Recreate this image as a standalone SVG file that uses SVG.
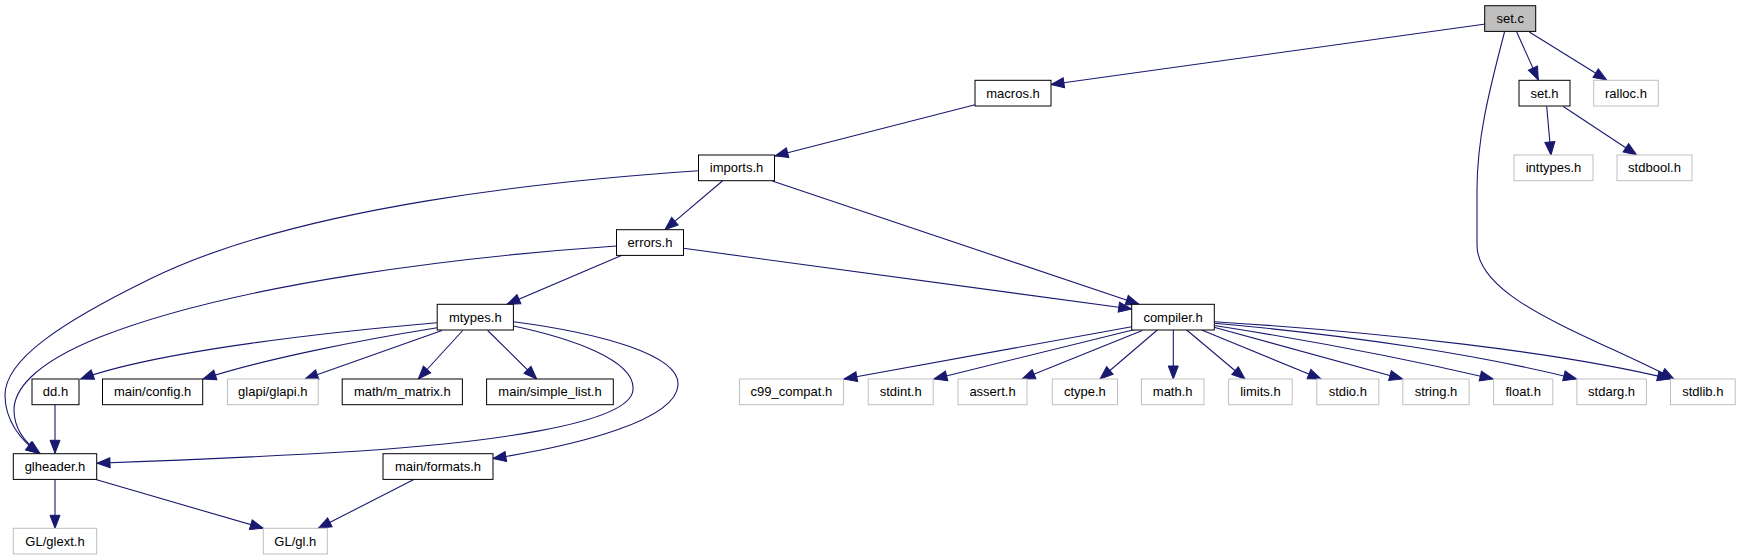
<svg xmlns="http://www.w3.org/2000/svg" width="1738" height="560" viewBox="0 0 1738 560">
<style>
.n rect{fill:#fff;stroke:#000;stroke-width:1}
.n.g rect{stroke:#bfbfbf}
.n.r rect{fill:#bfbfbf}
.n text{font-family:"Liberation Sans",Arial,sans-serif;font-size:13px;text-anchor:middle;fill:#000}
#edges path{fill:none;stroke:#191970;stroke-width:1.1;marker-end:url(#a)}
</style>
<defs>
<marker id="a" markerUnits="userSpaceOnUse" markerWidth="13" markerHeight="10" refX="13" refY="5" orient="auto" overflow="visible">
<path d="M0,0 L13,5 L0,10 Z" fill="#191970" stroke="#191970" stroke-width="1"/>
</marker>
</defs>
<rect width="1738" height="560" fill="#fff"/>
<g id="edges">
<path d="M1485.5,24 L1051,84.5"/>
<path d="M1504.5,32 C1488,95 1477,140 1477,190 L1477,245 C1477,300 1590,335 1674,379"/>
<path d="M1516.7,32 L1538.3,80"/>
<path d="M1529.3,32 L1606.7,80"/>
<path d="M1546.7,106.5 L1551,155"/>
<path d="M1563.3,106.5 L1636.7,155"/>
<path d="M975,104.7 L775,156"/>
<path d="M698.5,170.7 C560,180 300,205 150,279 C60,323 5,360 5,395 C5,420 20,440 39,453.5"/>
<path d="M722.4,181 L665,229.7"/>
<path d="M772.3,181 L1139,304.3"/>
<path d="M616.5,246 C470,256 240,282 100,337 C30,365 14,392 14,410 C14,428 24,442 40,453.5"/>
<path d="M621.4,255.5 L507,304.3"/>
<path d="M683.5,248.3 L1131.7,309"/>
<path d="M437.2,322.7 C340,331 160,350 80.6,379"/>
<path d="M437.2,327.7 C360,340 260,360 203,379"/>
<path d="M442,330.5 L305,379"/>
<path d="M462.7,330.5 L418.3,379"/>
<path d="M487.7,330.5 L536.7,379"/>
<path d="M513.5,326 C570,338 636,360 633,390 C630,425 480,443 360,451 C260,457 160,461 97,463.3"/>
<path d="M513.5,321.7 C600,333 680,355 678,385 C676,420 580,445 493,458.5"/>
<path d="M55,479.3 L55,528.3"/>
<path d="M95,479.3 L263.3,528.3"/>
<path d="M55,404.7 L55,453.3"/>
<path d="M414.3,479.3 L318.3,528.3"/>
<path d="M1131.7,326.7 L844,379"/>
<path d="M1134.8,329.5 L934,379"/>
<path d="M1142.3,330.5 L1022,379"/>
<path d="M1157.3,330 L1100,379"/>
<path d="M1173.3,330 L1173.3,379"/>
<path d="M1186.7,330 L1245,379"/>
<path d="M1201.7,330 L1321,379"/>
<path d="M1213,327 L1402.5,379"/>
<path d="M1214.5,325.5 C1320,342 1420,362 1493,379"/>
<path d="M1214.5,323.3 C1350,335 1480,355 1576.5,379"/>
<path d="M1214.5,321.7 C1380,332 1560,352 1670.5,379"/>
</g>
<g id="n_set_c" class="n r"><rect x="1484.7" y="5.7" width="51" height="25.7"/><text x="1510.2" y="23">set.c</text></g>
<g id="n_macros_h" class="n"><rect x="975" y="80.3" width="76" height="25.7"/><text x="1013" y="97.6">macros.h</text></g>
<g id="n_set_h" class="n"><rect x="1519" y="80.3" width="51" height="25.7"/><text x="1544.5" y="97.6">set.h</text></g>
<g id="n_ralloc_h" class="n g"><rect x="1593.7" y="80.3" width="64.6" height="25.7"/><text x="1626" y="97.6">ralloc.h</text></g>
<g id="n_imports_h" class="n"><rect x="698.5" y="155" width="76" height="25.7"/><text x="736.5" y="172.3">imports.h</text></g>
<g id="n_inttypes_h" class="n g"><rect x="1514" y="155" width="79" height="25.7"/><text x="1553.5" y="172.3">inttypes.h</text></g>
<g id="n_stdbool_h" class="n g"><rect x="1617" y="155" width="75" height="25.7"/><text x="1654.5" y="172.3">stdbool.h</text></g>
<g id="n_errors_h" class="n"><rect x="616.5" y="229.7" width="67" height="25.7"/><text x="650" y="247">errors.h</text></g>
<g id="n_mtypes_h" class="n"><rect x="437.2" y="304.3" width="76.2" height="25.7"/><text x="475.3" y="321.6">mtypes.h</text></g>
<g id="n_compiler_h" class="n"><rect x="1131.7" y="304.3" width="82.6" height="25.7"/><text x="1173" y="321.6">compiler.h</text></g>
<g id="n_dd_h" class="n"><rect x="32" y="379" width="47" height="25.7"/><text x="55.5" y="396.3">dd.h</text></g>
<g id="n_main_config_h" class="n"><rect x="102.5" y="379" width="100.2" height="25.7"/><text x="152.6" y="396.3">main/config.h</text></g>
<g id="n_glapi_glapi_h" class="n g"><rect x="227.4" y="379" width="90.8" height="25.7"/><text x="272.8" y="396.3">glapi/glapi.h</text></g>
<g id="n_math_m_matrix_h" class="n"><rect x="342.2" y="379" width="120.2" height="25.7"/><text x="402.3" y="396.3">math/m_matrix.h</text></g>
<g id="n_main_simple_list_h" class="n"><rect x="486.6" y="379" width="126.7" height="25.7"/><text x="550" y="396.3">main/simple_list.h</text></g>
<g id="n_c99_compat_h" class="n g"><rect x="739.4" y="379" width="104" height="25.7"/><text x="791.4" y="396.3">c99_compat.h</text></g>
<g id="n_stdint_h" class="n g"><rect x="868.2" y="379" width="65" height="25.7"/><text x="900.7" y="396.3">stdint.h</text></g>
<g id="n_assert_h" class="n g"><rect x="958" y="379" width="69" height="25.7"/><text x="992.5" y="396.3">assert.h</text></g>
<g id="n_ctype_h" class="n g"><rect x="1052.3" y="379" width="65.2" height="25.7"/><text x="1084.9" y="396.3">ctype.h</text></g>
<g id="n_math_h" class="n g"><rect x="1141.4" y="379" width="62.6" height="25.7"/><text x="1172.7" y="396.3">math.h</text></g>
<g id="n_limits_h" class="n g"><rect x="1228.6" y="379" width="63.6" height="25.7"/><text x="1260.4" y="396.3">limits.h</text></g>
<g id="n_stdio_h" class="n g"><rect x="1316.8" y="379" width="62" height="25.7"/><text x="1347.8" y="396.3">stdio.h</text></g>
<g id="n_string_h" class="n g"><rect x="1402.8" y="379" width="66.3" height="25.7"/><text x="1436" y="396.3">string.h</text></g>
<g id="n_float_h" class="n g"><rect x="1493.6" y="379" width="59.2" height="25.7"/><text x="1523.2" y="396.3">float.h</text></g>
<g id="n_stdarg_h" class="n g"><rect x="1576.9" y="379" width="69.5" height="25.7"/><text x="1611.6" y="396.3">stdarg.h</text></g>
<g id="n_stdlib_h" class="n g"><rect x="1670.5" y="379" width="64.7" height="25.7"/><text x="1702.8" y="396.3">stdlib.h</text></g>
<g id="n_glheader_h" class="n"><rect x="13.3" y="453.7" width="83.4" height="25.7"/><text x="55" y="471">glheader.h</text></g>
<g id="n_main_formats_h" class="n"><rect x="383" y="453.7" width="110" height="25.7"/><text x="438" y="471">main/formats.h</text></g>
<g id="n_GL_glext_h" class="n g"><rect x="13.3" y="528.3" width="83.4" height="25.7"/><text x="55" y="545.6">GL/glext.h</text></g>
<g id="n_GL_gl_h" class="n g"><rect x="263.3" y="528.3" width="64" height="25.7"/><text x="295.3" y="545.6">GL/gl.h</text></g>
</svg>
